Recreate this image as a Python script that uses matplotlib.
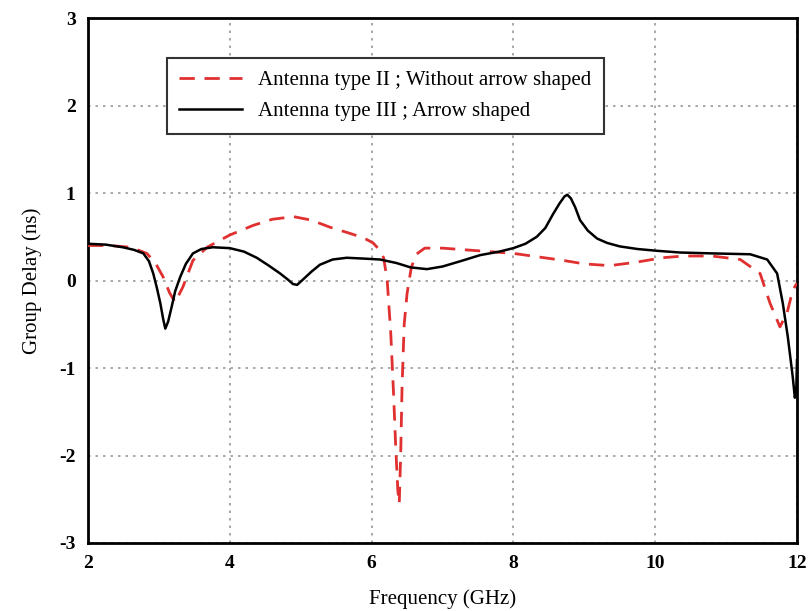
import matplotlib
matplotlib.use("Agg")
import matplotlib.pyplot as plt

plt.rcParams["axes.unicode_minus"] = False

# Antenna type II (without arrow-shaped element) - group delay in ns
freq_type2 = [2.0, 2.3, 2.6, 2.83, 2.95, 3.06, 3.15, 3.23, 3.34, 3.48, 3.68, 4.0,
              4.33, 4.6, 4.9, 5.15, 5.41, 5.65, 5.88, 6.02, 6.1, 6.17, 6.22, 6.27,
              6.31, 6.34, 6.37, 6.39, 6.41, 6.43, 6.46, 6.5, 6.56, 6.63, 6.75, 7.0,
              7.5, 8.0, 8.35, 8.7, 9.0, 9.36, 9.74, 10.1, 10.4, 10.8, 11.2, 11.48,
              11.62, 11.76, 11.86, 11.94, 12.0]
delay_type2 = [0.40, 0.40, 0.38, 0.31, 0.20, 0.04, -0.14, -0.25, -0.07, 0.23, 0.38, 0.52,
               0.63, 0.70, 0.73, 0.69, 0.61, 0.55, 0.49, 0.43, 0.36, 0.26, 0.0, -0.6,
               -1.3, -1.9, -2.4, -2.55, -2.0, -1.2, -0.5, -0.15, 0.15, 0.30, 0.37, 0.37,
               0.34, 0.31, 0.27, 0.23, 0.19, 0.17, 0.21, 0.26, 0.28, 0.28, 0.24, 0.08,
               -0.26, -0.53, -0.37, -0.11, -0.03]

# Antenna type III (arrow-shaped) - group delay in ns
freq_type3 = [2.0, 2.25, 2.49, 2.65, 2.78, 2.86, 2.92, 2.97, 3.02, 3.06, 3.09, 3.13,
              3.18, 3.23, 3.3, 3.38, 3.48, 3.6, 3.76, 4.0, 4.2, 4.38, 4.55, 4.71,
              4.82, 4.89, 4.95, 5.03, 5.15, 5.27, 5.45, 5.65, 5.9, 6.12, 6.35, 6.55,
              6.78, 7.0, 7.25, 7.53, 7.8, 8.0, 8.17, 8.33, 8.45, 8.56, 8.65, 8.72,
              8.76, 8.81, 8.87, 8.94, 9.05, 9.18, 9.32, 9.5, 9.75, 10.02, 10.35,
              10.8, 11.34, 11.58, 11.72, 11.8, 11.87, 11.94, 11.97, 11.99, 12.0]
delay_type3 = [0.42, 0.41, 0.38, 0.35, 0.31, 0.22, 0.08, -0.08, -0.26, -0.44, -0.55, -0.47,
               -0.30, -0.12, 0.04, 0.19, 0.31, 0.36, 0.38, 0.37, 0.33, 0.26, 0.17, 0.08,
               0.01, -0.04, -0.05, 0.01, 0.10, 0.18, 0.24, 0.26, 0.25, 0.24, 0.20, 0.15,
               0.13, 0.16, 0.22, 0.29, 0.33, 0.37, 0.42, 0.50, 0.60, 0.76, 0.88, 0.96,
               0.98, 0.94, 0.84, 0.69, 0.57, 0.48, 0.43, 0.39, 0.36, 0.34, 0.32,
               0.31, 0.30, 0.24, 0.08, -0.26, -0.64, -1.10, -1.34, -1.25, -0.91]

label_type2 = "Antenna type II ; Without arrow shaped"
label_type3 = "Antenna type III ; Arrow shaped"

x_ticks = [2, 4, 6, 8, 10, 12]
y_ticks = [-3, -2, -1, 0, 1, 2, 3]

serif = ["Liberation Serif", "DejaVu Serif"]

fig = plt.figure(figsize=(8.12, 6.11), dpi=100)
ax = fig.add_axes([0.1084, 0.1113, 0.8731, 0.8592])

ax.plot(freq_type2, delay_type2, color="#e03030", linestyle=(0, (5.5, 3.5)),
        linewidth=2.0, label=label_type2, zorder=3)
ax.plot(freq_type3, delay_type3, color="black", linewidth=1.8,
        label=label_type3, zorder=4)

ax.set_xlim(2, 12)
ax.set_ylim(-3, 3)
ax.set_xticks(x_ticks)
ax.set_yticks(y_ticks)
ax.tick_params(length=0, pad=9)
for lab in ax.get_xticklabels() + ax.get_yticklabels():
    lab.set_fontfamily(serif)
    lab.set_fontweight("bold")
    lab.set_fontsize(14)

ax.grid(True, color="#9a9a9a", linestyle=(0, (1.5, 3)), linewidth=1.2)
ax.set_axisbelow(True)
for sp in ax.spines.values():
    sp.set_linewidth(2.0)
    sp.set_color("black")

ax.set_xlabel("Frequency (GHz)", fontfamily=serif, fontsize=15, labelpad=12)
ax.set_ylabel("Group Delay (ns)", fontfamily=serif, fontsize=15, labelpad=12)

leg = ax.legend(loc="upper left", bbox_to_anchor=(0.111, 0.924),
                prop={"family": serif, "size": 15}, frameon=True, fancybox=False,
                handlelength=3.0, borderpad=0.6, labelspacing=0.55,
                handletextpad=0.8, borderaxespad=0)
leg.get_frame().set_edgecolor("#333333")
leg.get_frame().set_linewidth(1.5)
leg.get_frame().set_alpha(1)

fig.savefig("out.png", dpi=100, facecolor="white")
